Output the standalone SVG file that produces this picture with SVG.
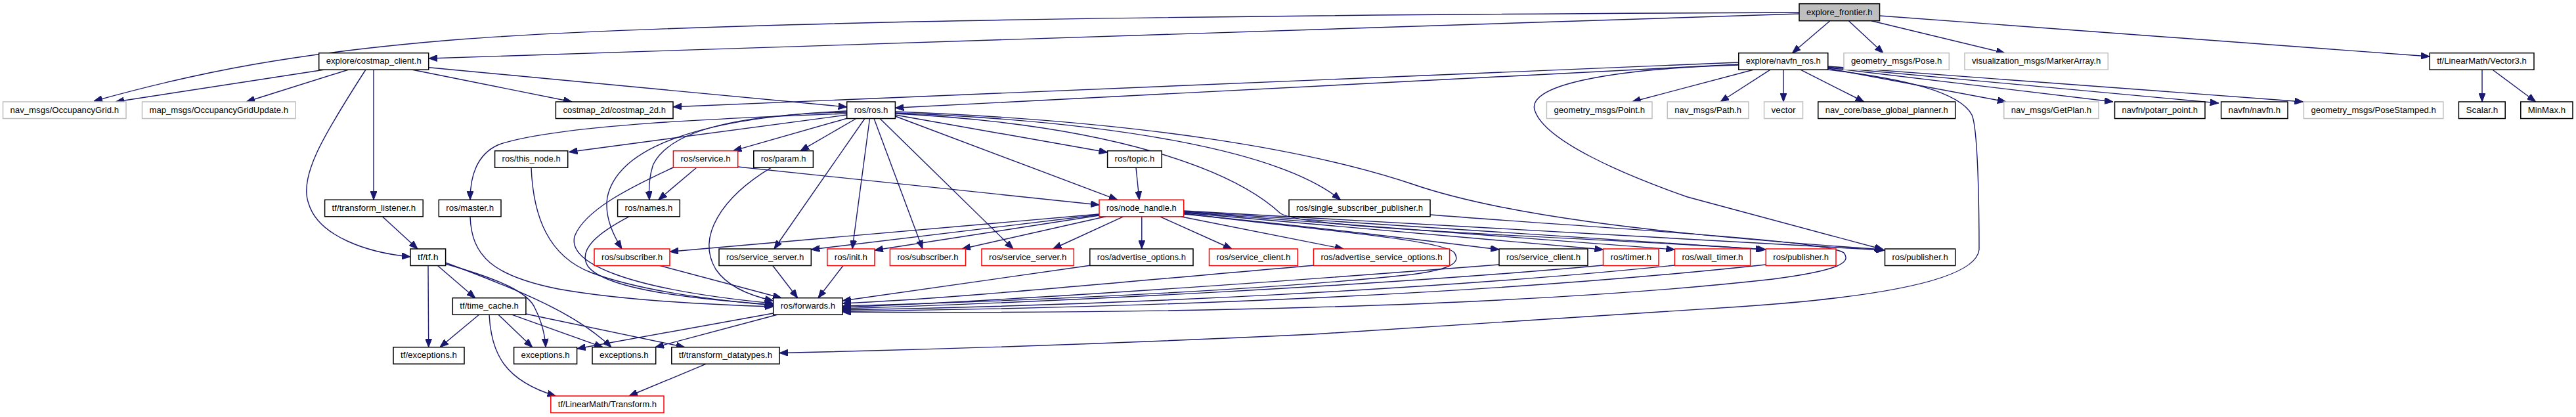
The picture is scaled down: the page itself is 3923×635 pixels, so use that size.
<svg xmlns="http://www.w3.org/2000/svg" width="3923" height="635" viewBox="0 0 3923 635">
<style>
.n rect{fill:#fff;stroke:#000;stroke-width:1.5}
.n.g rect{stroke:#bfbfbf}
.n.r rect{stroke:#ff0000}
.n.root rect{fill:#bfbfbf}
.n text{font-family:"Liberation Sans",Arial,sans-serif;font-size:13.5px;fill:#000;text-anchor:middle}
#edges path{fill:none;stroke:#191970;stroke-width:1.4;marker-end:url(#ah)}
</style>
<defs>
<marker id="ah" viewBox="0 0 13 10" refX="13" refY="5" markerWidth="13" markerHeight="10" markerUnits="userSpaceOnUse" orient="auto">
<path d="M0,0 L13,5 L0,10 z" fill="#191970" stroke="#191970"/>
</marker>
</defs>
<rect width="3923" height="635" fill="#fff"/>
<g id="edges">
<path d="M2740,21 L653,89"/>
<path d="M2740,19 C2000,22 1100,30 700,60 C450,80 300,110 143,154"/>
<path d="M2786.6,32 L2729.5,80.7"/>
<path d="M2815.6,32 L2868,80.7"/>
<path d="M2850,31.7 L3053,80.7"/>
<path d="M2862.5,24 L3700,86"/>
<path d="M494.6,106 L176,155"/>
<path d="M531,106 L375,155"/>
<path d="M557,106 C490,210 455,270 470,310 C485,360 560,385 625,391"/>
<path d="M569,106.5 L569,304.3"/>
<path d="M627,106 L871,155"/>
<path d="M652.7,102.7 L1289.7,163"/>
<path d="M582.6,330 L636,379"/>
<path d="M652,404.5 L652.7,528.7"/>
<path d="M666.5,404.5 L723.7,453.7"/>
<path d="M678.6,402 C760,425 805,445 815,470 C825,490 830,510 831,528.7"/>
<path d="M678.6,400 C800,445 880,480 931,528.7"/>
<path d="M729.5,479.2 L670,528.7"/>
<path d="M759,479.2 L810.7,528.7"/>
<path d="M779.5,479.2 L918,528.7"/>
<path d="M800.9,478 L1042.8,528.7"/>
<path d="M745,479.2 C748,540 770,580 846.4,603"/>
<path d="M1177.7,477 L878.6,531"/>
<path d="M1183.5,479.2 L998,528.7"/>
<path d="M1075.4,554.2 L958,603"/>
<path d="M2783.8,106 C2900,120 2985,140 3003,175 C3014,200 3014,360 3014,380 C3010,420 2900,450 2650,467 L2000,509 C1600,528 1300,535 1187,537.5"/>
<path d="M2647.8,95 L1025,162.7"/>
<path d="M2647.8,98 L1363.4,164.3"/>
<path d="M2671,106 L2485.7,155"/>
<path d="M2696,106.2 L2620,155"/>
<path d="M2716,106.2 L2716,155"/>
<path d="M2742,106.2 L2838.8,155"/>
<path d="M2783.8,104 L3055,155"/>
<path d="M2783.8,103 L3218,155"/>
<path d="M2783.8,102 L3378.8,157"/>
<path d="M2783.8,101 L3507.5,155"/>
<path d="M2647.8,99 C2450,105 2320,130 2338,170 C2355,215 2470,265 2570,300 L2868,380"/>
<path d="M3780,106.2 L3780,155"/>
<path d="M3796,106.2 L3861.6,155"/>
<path d="M1289.7,173 C1100,180 850,190 760,220 C725,235 716,270 716,304.3"/>
<path d="M1289.7,175 L866.5,231.5"/>
<path d="M1289,180.5 L1116.5,229.7"/>
<path d="M1304,180.5 L1219,229.7"/>
<path d="M1289.7,171 C1120,174 1020,200 995,250 C988,270 988,290 989,304.3"/>
<path d="M1289.7,169 C1050,180 940,230 925,300 C920,330 935,360 947,379"/>
<path d="M1317,180.5 L1179,379"/>
<path d="M1324.5,180.5 L1298,379"/>
<path d="M1331,180.5 L1405,379"/>
<path d="M1340,180.5 L1543,379"/>
<path d="M1363.4,177 L1701.8,304.3"/>
<path d="M1363.4,175 L1686.6,232"/>
<path d="M1363.4,172 C1700,185 1950,230 2041.5,304.3"/>
<path d="M1363.4,170 C1750,185 2000,230 2150,280 C2280,325 2500,355 2868,380"/>
<path d="M1363.4,173 C1700,190 1880,260 1950,325 C1990,350 2400,360 2687,380"/>
<path d="M1730,255.2 L1735,304.3"/>
<path d="M1060.7,255.2 L1002.7,304.3"/>
<path d="M1123.7,254 L1674,312"/>
<path d="M1025.4,255 C960,285 890,320 875,360 C865,400 950,440 1177.7,462"/>
<path d="M958,329.8 C910,355 880,380 895,405 C920,440 1050,455 1177.7,464"/>
<path d="M809,255.2 C812,330 835,390 900,415 C980,445 1100,458 1177.7,465"/>
<path d="M716,329.8 C718,390 750,420 850,440 C950,458 1080,464 1177.7,467"/>
<path d="M1174.5,255.2 C1100,300 1060,360 1090,410 C1110,440 1150,452 1177.7,458"/>
<path d="M1005,404.5 L1190,453.7"/>
<path d="M1176.8,404.5 L1214.7,453.7"/>
<path d="M1284,404.5 L1246,453.7"/>
<path d="M1674,326 L1020,383.3"/>
<path d="M1674,327 L1235.3,380"/>
<path d="M1674,328 L1332,381"/>
<path d="M1684,329.8 L1465,379"/>
<path d="M1710.7,329.8 L1603.6,379"/>
<path d="M1738.8,329.8 L1738.8,379"/>
<path d="M1766.5,329.8 L1876,379"/>
<path d="M1797.8,329.8 L2046,379"/>
<path d="M1802.7,326 C2000,345 2200,370 2283,380"/>
<path d="M1802.7,324 L2441.5,380"/>
<path d="M1802.7,323 L2550.4,380"/>
<path d="M1802.7,322 L2689.3,380"/>
<path d="M1802.7,321 L2870.5,381"/>
<path d="M1802.7,325 C2000,350 2200,365 2215,385 C2225,400 2210,410 2150,418 C1900,445 1500,460 1283,466"/>
<path d="M2178,327 C2400,345 2780,365 2808,385 C2820,400 2800,412 2700,425 C2300,470 1700,478 1283,475"/>
<path d="M1659.8,404.3 L1283,458"/>
<path d="M2000.4,404.3 C1700,430 1450,455 1283,462"/>
<path d="M2283,403 C2000,425 1600,455 1283,468"/>
<path d="M2441.5,404 C2100,435 1600,460 1283,470"/>
<path d="M2550.4,404 C2200,440 1700,465 1283,472"/>
<path d="M2689.3,403 C2300,445 1800,468 1283,474"/>
</g>
<g id="n_root" class="n root"><rect x="2740" y="5.7" width="122.5" height="26"/><text x="2801.25" y="22.5" textLength="100.5" lengthAdjust="spacingAndGlyphs">explore_frontier.h</text></g>
<g id="n_costmap_client" class="n"><rect x="485.7" y="80.7" width="167" height="25.5"/><text x="569.2" y="97.2" textLength="145" lengthAdjust="spacingAndGlyphs">explore/costmap_client.h</text></g>
<g id="n_navfn_ros" class="n"><rect x="2647.8" y="80.7" width="136" height="25.5"/><text x="2715.8" y="97.2" textLength="114" lengthAdjust="spacingAndGlyphs">explore/navfn_ros.h</text></g>
<g id="n_pose" class="n g"><rect x="2808" y="80.7" width="160.3" height="25.5"/><text x="2888.15" y="97.2" textLength="138.3" lengthAdjust="spacingAndGlyphs">geometry_msgs/Pose.h</text></g>
<g id="n_marker" class="n g"><rect x="2992" y="80.7" width="218.3" height="25.5"/><text x="3101.15" y="97.2" textLength="196.3" lengthAdjust="spacingAndGlyphs">visualization_msgs/MarkerArray.h</text></g>
<g id="n_vector3" class="n"><rect x="3700.2" y="80.7" width="158.8" height="25.5"/><text x="3779.6" y="97.2" textLength="136.8" lengthAdjust="spacingAndGlyphs">tf/LinearMath/Vector3.h</text></g>
<g id="n_occgrid" class="n g"><rect x="4.5" y="155" width="187.5" height="25.5"/><text x="98.25" y="171.5" textLength="165.5" lengthAdjust="spacingAndGlyphs">nav_msgs/OccupancyGrid.h</text></g>
<g id="n_occupd" class="n g"><rect x="216.5" y="155" width="233.5" height="25.5"/><text x="333.25" y="171.5" textLength="211.5" lengthAdjust="spacingAndGlyphs">map_msgs/OccupancyGridUpdate.h</text></g>
<g id="n_costmap2d" class="n"><rect x="846.4" y="155" width="178.6" height="25.5"/><text x="935.7" y="171.5" textLength="156.6" lengthAdjust="spacingAndGlyphs">costmap_2d/costmap_2d.h</text></g>
<g id="n_ros" class="n"><rect x="1289.7" y="155" width="73.7" height="25.5"/><text x="1326.55" y="171.5" textLength="51.7" lengthAdjust="spacingAndGlyphs">ros/ros.h</text></g>
<g id="n_point" class="n g"><rect x="2355.4" y="155" width="160.6" height="25.5"/><text x="2435.7" y="171.5" textLength="138.6" lengthAdjust="spacingAndGlyphs">geometry_msgs/Point.h</text></g>
<g id="n_path" class="n g"><rect x="2539.3" y="155" width="123.7" height="25.5"/><text x="2601.15" y="171.5" textLength="101.7" lengthAdjust="spacingAndGlyphs">nav_msgs/Path.h</text></g>
<g id="n_vector" class="n g"><rect x="2686.6" y="155" width="58.9" height="25.5"/><text x="2716.05" y="171.5" textLength="36.9" lengthAdjust="spacingAndGlyphs">vector</text></g>
<g id="n_planner" class="n"><rect x="2768.8" y="155" width="208.9" height="25.5"/><text x="2873.25" y="171.5" textLength="186.9" lengthAdjust="spacingAndGlyphs">nav_core/base_global_planner.h</text></g>
<g id="n_getplan" class="n g"><rect x="3051.8" y="155" width="144.2" height="25.5"/><text x="3123.9" y="171.5" textLength="122.2" lengthAdjust="spacingAndGlyphs">nav_msgs/GetPlan.h</text></g>
<g id="n_potarr" class="n"><rect x="3220.5" y="155" width="137.5" height="25.5"/><text x="3289.25" y="171.5" textLength="115.5" lengthAdjust="spacingAndGlyphs">navfn/potarr_point.h</text></g>
<g id="n_navfn" class="n"><rect x="3382.6" y="155" width="101.4" height="25.5"/><text x="3433.3" y="171.5" textLength="79.4" lengthAdjust="spacingAndGlyphs">navfn/navfn.h</text></g>
<g id="n_posest" class="n g"><rect x="3508.4" y="155" width="212.4" height="25.5"/><text x="3614.6" y="171.5" textLength="190.4" lengthAdjust="spacingAndGlyphs">geometry_msgs/PoseStamped.h</text></g>
<g id="n_scalar" class="n"><rect x="3744.4" y="155" width="70.8" height="25.5"/><text x="3779.8" y="171.5" textLength="48.8" lengthAdjust="spacingAndGlyphs">Scalar.h</text></g>
<g id="n_minmax" class="n"><rect x="3838.8" y="155" width="79.2" height="25.5"/><text x="3878.4" y="171.5" textLength="57.2" lengthAdjust="spacingAndGlyphs">MinMax.h</text></g>
<g id="n_this_node" class="n"><rect x="753.6" y="229.7" width="111.1" height="25.5"/><text x="809.15" y="246.2" textLength="89.1" lengthAdjust="spacingAndGlyphs">ros/this_node.h</text></g>
<g id="n_service" class="n r"><rect x="1025.4" y="229.7" width="98.3" height="25.5"/><text x="1074.55" y="246.2" textLength="76.3" lengthAdjust="spacingAndGlyphs">ros/service.h</text></g>
<g id="n_param" class="n"><rect x="1147.8" y="229.7" width="90.6" height="25.5"/><text x="1193.1" y="246.2" textLength="68.6" lengthAdjust="spacingAndGlyphs">ros/param.h</text></g>
<g id="n_topic" class="n"><rect x="1686.6" y="229.7" width="82.6" height="25.5"/><text x="1727.9" y="246.2" textLength="60.6" lengthAdjust="spacingAndGlyphs">ros/topic.h</text></g>
<g id="n_tflistener" class="n"><rect x="494.6" y="304.3" width="149.6" height="25.5"/><text x="569.4" y="320.8" textLength="127.6" lengthAdjust="spacingAndGlyphs">tf/transform_listener.h</text></g>
<g id="n_master" class="n"><rect x="668.3" y="304.3" width="94.7" height="25.5"/><text x="715.65" y="320.8" textLength="72.7" lengthAdjust="spacingAndGlyphs">ros/master.h</text></g>
<g id="n_names" class="n"><rect x="940.6" y="304.3" width="94.7" height="25.5"/><text x="987.95" y="320.8" textLength="72.7" lengthAdjust="spacingAndGlyphs">ros/names.h</text></g>
<g id="n_node_handle" class="n r"><rect x="1674" y="304.3" width="128.7" height="25.5"/><text x="1738.35" y="320.8" textLength="106.7" lengthAdjust="spacingAndGlyphs">ros/node_handle.h</text></g>
<g id="n_ssp" class="n"><rect x="1963" y="304.3" width="215" height="25.5"/><text x="2070.5" y="320.8" textLength="193" lengthAdjust="spacingAndGlyphs">ros/single_subscriber_publisher.h</text></g>
<g id="n_tf" class="n"><rect x="625" y="379" width="53.6" height="25.5"/><text x="651.8" y="395.5" textLength="31.6" lengthAdjust="spacingAndGlyphs">tf/tf.h</text></g>
<g id="n_sub1" class="n r"><rect x="905" y="379" width="115" height="25.5"/><text x="962.5" y="395.5" textLength="93" lengthAdjust="spacingAndGlyphs">ros/subscriber.h</text></g>
<g id="n_srvsrv1" class="n"><rect x="1095" y="379" width="140.3" height="25.5"/><text x="1165.15" y="395.5" textLength="118.3" lengthAdjust="spacingAndGlyphs">ros/service_server.h</text></g>
<g id="n_init" class="n r"><rect x="1259.8" y="379" width="72.2" height="25.5"/><text x="1295.9" y="395.5" textLength="50.2" lengthAdjust="spacingAndGlyphs">ros/init.h</text></g>
<g id="n_sub2" class="n r"><rect x="1355.4" y="379" width="115.1" height="25.5"/><text x="1412.95" y="395.5" textLength="93.1" lengthAdjust="spacingAndGlyphs">ros/subscriber.h</text></g>
<g id="n_srvsrv2" class="n r"><rect x="1495" y="379" width="140.3" height="25.5"/><text x="1565.15" y="395.5" textLength="118.3" lengthAdjust="spacingAndGlyphs">ros/service_server.h</text></g>
<g id="n_advopt" class="n"><rect x="1659.8" y="379" width="157.2" height="25.5"/><text x="1738.4" y="395.5" textLength="135.2" lengthAdjust="spacingAndGlyphs">ros/advertise_options.h</text></g>
<g id="n_srvcli1" class="n r"><rect x="1841.5" y="379" width="134.8" height="25.5"/><text x="1908.9" y="395.5" textLength="112.8" lengthAdjust="spacingAndGlyphs">ros/service_client.h</text></g>
<g id="n_advsrvopt" class="n r"><rect x="2000.4" y="379" width="207.2" height="25.5"/><text x="2104" y="395.5" textLength="185.2" lengthAdjust="spacingAndGlyphs">ros/advertise_service_options.h</text></g>
<g id="n_srvcli2" class="n"><rect x="2283" y="379" width="135" height="25.5"/><text x="2350.5" y="395.5" textLength="113" lengthAdjust="spacingAndGlyphs">ros/service_client.h</text></g>
<g id="n_timer" class="n r"><rect x="2441.5" y="379" width="84.5" height="25.5"/><text x="2483.75" y="395.5" textLength="62.5" lengthAdjust="spacingAndGlyphs">ros/timer.h</text></g>
<g id="n_walltimer" class="n r"><rect x="2550.4" y="379" width="115.2" height="25.5"/><text x="2608" y="395.5" textLength="93.2" lengthAdjust="spacingAndGlyphs">ros/wall_timer.h</text></g>
<g id="n_pub1" class="n r"><rect x="2689.3" y="379" width="106.7" height="25.5"/><text x="2742.65" y="395.5" textLength="84.7" lengthAdjust="spacingAndGlyphs">ros/publisher.h</text></g>
<g id="n_pub2" class="n"><rect x="2870.5" y="379" width="107.2" height="25.5"/><text x="2924.1" y="395.5" textLength="85.2" lengthAdjust="spacingAndGlyphs">ros/publisher.h</text></g>
<g id="n_timecache" class="n"><rect x="689.3" y="453.7" width="111.6" height="25.5"/><text x="745.1" y="470.2" textLength="89.6" lengthAdjust="spacingAndGlyphs">tf/time_cache.h</text></g>
<g id="n_forwards" class="n"><rect x="1177.7" y="453.7" width="105.3" height="25.5"/><text x="1230.35" y="470.2" textLength="83.3" lengthAdjust="spacingAndGlyphs">ros/forwards.h</text></g>
<g id="n_tfexc" class="n"><rect x="599" y="528.7" width="108" height="25.5"/><text x="653" y="545.2" textLength="86" lengthAdjust="spacingAndGlyphs">tf/exceptions.h</text></g>
<g id="n_exc1" class="n"><rect x="782.6" y="528.7" width="96" height="25.5"/><text x="830.6" y="545.2" textLength="74" lengthAdjust="spacingAndGlyphs">exceptions.h</text></g>
<g id="n_exc2" class="n"><rect x="902" y="528.7" width="96.7" height="25.5"/><text x="950.35" y="545.2" textLength="74.7" lengthAdjust="spacingAndGlyphs">exceptions.h</text></g>
<g id="n_tfdt" class="n"><rect x="1022.8" y="528.7" width="164.2" height="25.5"/><text x="1104.9" y="545.2" textLength="142.2" lengthAdjust="spacingAndGlyphs">tf/transform_datatypes.h</text></g>
<g id="n_transform" class="n r"><rect x="838.8" y="603" width="172.2" height="25.5"/><text x="924.9" y="619.5" textLength="150.2" lengthAdjust="spacingAndGlyphs">tf/LinearMath/Transform.h</text></g>
</svg>
